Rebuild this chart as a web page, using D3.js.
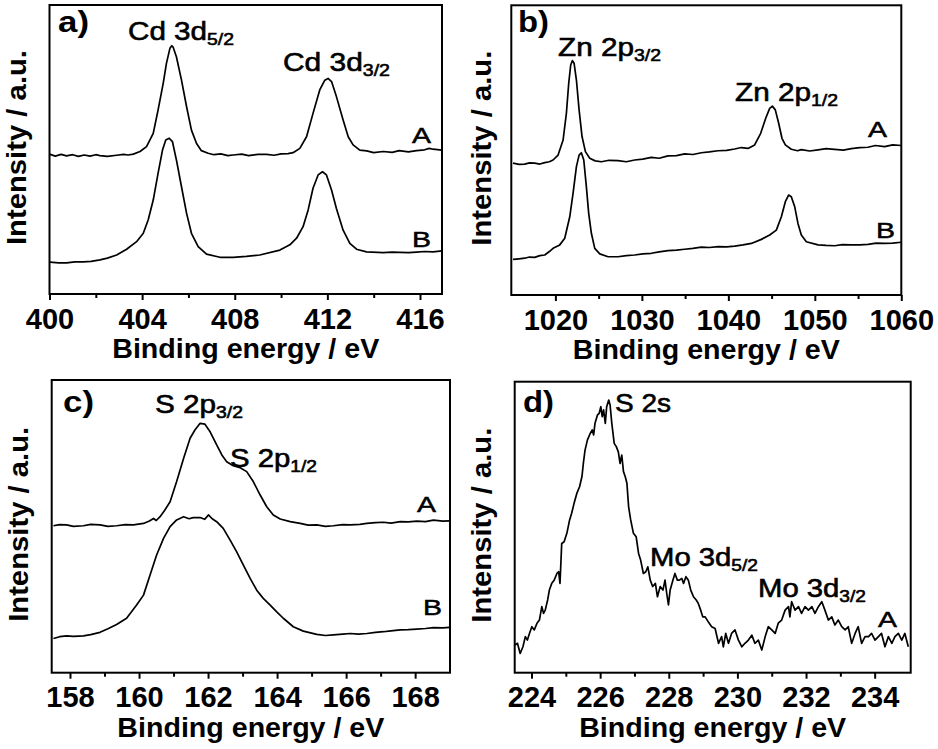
<!DOCTYPE html>
<html>
<head>
<meta charset="utf-8">
<script src="https://cdnjs.cloudflare.com/ajax/libs/d3/7.8.5/d3.min.js"></script>
<style>
  body { margin: 0; background: #fff; }
  text { font-family: "Liberation Sans", Arial, sans-serif; fill: #000; }
</style>
</head>
<body>
<script>
// ---- data (intensity in % of panel height) ----
var cdTicks = [400, 404, 408, 412, 416];
var cdMinor = [402, 406, 410, 414];
var cdA = [[400.0,48.4],[400.25,47.7],[400.5,48.3],[400.74,47.8],[401.0,48.2],[401.25,47.6],[401.5,48.1],[401.75,47.7],[402.0,48.2],[402.18,47.9],[402.5,47.6],[402.9,48.0],[403.2,48.3],[403.4,48.1],[403.62,48.4],[403.91,49.3],[404.19,51.0],[404.48,55.6],[404.69,63.7],[404.91,72.9],[405.05,79.8],[405.2,85.0],[405.28,85.9],[405.34,85.4],[405.48,82.1],[405.7,74.0],[405.92,64.8],[406.13,56.7],[406.35,52.1],[406.56,49.6],[406.85,48.7],[407.1,48.2],[407.4,48.5],[407.7,47.9],[407.93,48.1],[408.3,48.4],[408.6,47.9],[409.0,48.3],[409.37,48.3],[409.7,48.0],[410.0,48.5],[410.3,48.6],[410.52,48.9],[410.81,50.4],[411.1,54.4],[411.38,62.5],[411.67,70.6],[411.89,74.0],[412.03,74.6],[412.18,73.5],[412.39,68.3],[412.68,60.2],[412.9,54.4],[413.11,51.6],[413.4,49.8],[413.7,49.5],[414.0,48.9],[414.41,49.3],[414.8,49.0],[415.1,49.6],[415.5,49.2],[415.85,49.6],[416.2,49.9],[416.4,50.4],[416.56,50.1],[416.95,49.8]];
var cdB = [[400.02,11.0],[400.4,10.8],[400.74,10.8],[401.1,11.1],[401.46,11.1],[401.8,11.3],[402.18,11.8],[402.5,12.4],[402.9,13.5],[403.33,15.5],[403.76,18.1],[404.05,21.0],[404.26,25.6],[404.48,32.5],[404.69,41.8],[404.88,49.8],[405.02,53.3],[405.17,53.9],[405.31,52.7],[405.48,46.4],[405.7,37.1],[405.92,27.9],[406.13,21.0],[406.42,16.4],[406.78,13.8],[407.36,12.7],[407.93,12.7],[408.5,13.0],[409.08,13.5],[409.95,15.2],[410.38,17.0],[410.67,19.3],[410.95,23.3],[411.17,29.1],[411.38,36.6],[411.6,41.2],[411.79,42.3],[411.96,41.2],[412.18,36.0],[412.39,29.6],[412.68,22.1],[412.97,17.5],[413.26,15.5],[413.69,14.6],[414.41,14.3],[414.8,14.5],[415.13,14.4],[415.5,14.3],[415.85,14.5],[416.2,14.7],[416.56,14.6],[416.95,14.9]];

var znTicks = [1020, 1030, 1040, 1050, 1060];
var znMinor = [1025, 1035, 1045, 1055];
var znA = [[1015.1,45.5],[1015.8,45.1],[1016.45,45.2],[1017.0,45.6],[1017.6,45.5],[1018.2,45.2],[1018.77,45.7],[1019.3,46.0],[1019.73,46.6],[1020.31,48.3],[1020.89,53.5],[1021.27,62.7],[1021.54,73.1],[1021.77,79.4],[1021.97,80.9],[1022.16,80.0],[1022.43,74.2],[1022.74,63.9],[1023.08,54.7],[1023.47,49.5],[1023.97,47.2],[1024.6,46.3],[1025.32,46.0],[1026.2,46.5],[1027.24,46.4],[1028.2,46.0],[1029.17,46.6],[1030.1,46.9],[1031.1,47.5],[1032.0,47.2],[1033.02,48.0],[1034.0,48.1],[1034.95,48.7],[1035.9,48.5],[1036.88,49.1],[1037.8,49.4],[1038.81,49.8],[1039.8,49.9],[1040.73,50.4],[1041.5,50.9],[1042.27,50.6],[1043.04,51.8],[1043.74,55.8],[1044.32,61.0],[1044.78,64.4],[1045.09,65.2],[1045.43,63.9],[1045.82,59.3],[1046.2,54.1],[1046.59,51.8],[1047.28,50.3],[1048.0,49.8],[1048.44,50.2],[1049.4,49.7],[1050.37,50.1],[1051.3,50.5],[1052.29,50.3],[1053.3,50.0],[1054.22,50.5],[1055.2,50.9],[1056.15,51.0],[1057.0,51.6],[1058.07,51.2],[1059.0,51.8],[1060.0,51.6]];
var znB = [[1015.1,12.3],[1015.8,12.5],[1016.45,12.7],[1017.0,13.1],[1017.6,13.0],[1018.2,13.6],[1018.77,13.8],[1019.3,15.0],[1019.73,16.1],[1020.5,17.3],[1021.08,19.6],[1021.66,27.0],[1022.04,35.1],[1022.43,44.3],[1022.74,48.3],[1023.0,49.1],[1023.28,46.6],[1023.58,37.4],[1023.85,28.2],[1024.16,21.3],[1024.55,16.1],[1025.13,14.2],[1026.09,13.2],[1027.24,13.2],[1028.2,13.6],[1029.17,13.8],[1030.1,14.2],[1031.1,14.4],[1032.0,14.9],[1033.02,15.3],[1034.0,15.5],[1034.95,15.8],[1035.9,16.1],[1036.88,16.5],[1037.8,16.4],[1038.81,16.7],[1039.8,16.6],[1040.73,16.9],[1041.7,17.3],[1042.66,17.8],[1043.82,19.2],[1044.78,20.7],[1045.55,22.4],[1046.13,27.0],[1046.59,32.2],[1046.97,34.5],[1047.28,33.9],[1047.67,30.5],[1048.05,24.7],[1048.44,20.7],[1049.02,18.4],[1050.37,17.3],[1051.3,17.1],[1052.29,17.0],[1053.2,17.4],[1054.22,17.3],[1055.2,17.3],[1056.15,17.5],[1057.1,17.9],[1058.07,17.8],[1059.0,17.9],[1060.0,18.2]];

var s2pTicks = [158, 160, 162, 164, 166, 168];
var s2pMinor = [159, 161, 163, 165, 167];
var sA = [[157.52,50.2],[157.7,50.6],[157.9,50.5],[158.1,50.0],[158.39,50.2],[158.6,50.7],[158.87,50.5],[159.1,50.0],[159.35,50.2],[159.6,50.6],[159.84,50.5],[160.13,51.0],[160.3,51.8],[160.42,52.7],[160.5,52.0],[160.61,53.3],[160.75,55.6],[160.9,58.4],[161.09,65.3],[161.29,73.2],[161.48,80.1],[161.62,82.9],[161.77,85.2],[161.91,84.9],[162.06,82.3],[162.25,77.8],[162.4,74.4],[162.54,72.1],[162.73,70.7],[162.93,70.0],[163.12,68.7],[163.31,65.3],[163.51,60.7],[163.7,56.7],[163.89,53.9],[164.09,52.5],[164.38,51.6],[164.67,51.0],[164.9,50.4],[165.15,50.5],[165.4,50.0],[165.63,50.2],[165.9,50.6],[166.12,50.5],[166.4,50.7],[166.6,51.0],[166.85,51.3],[167.08,51.4],[167.3,51.1],[167.57,51.6],[167.8,51.5],[168.05,51.8],[168.3,51.6],[168.53,52.1],[168.8,51.8],[169.0,51.9]];
var sB = [[157.52,11.7],[157.7,12.3],[157.9,12.6],[158.1,12.4],[158.39,12.6],[158.6,13.0],[158.87,13.8],[159.1,15.0],[159.35,16.5],[159.64,18.6],[159.93,23.1],[160.13,26.5],[160.32,33.4],[160.51,40.2],[160.71,45.9],[160.9,49.9],[161.09,52.2],[161.29,53.3],[161.45,52.6],[161.57,53.0],[161.77,53.0],[161.9,52.4],[162.01,53.9],[162.12,52.6],[162.25,51.6],[162.44,49.3],[162.64,45.3],[162.83,41.3],[163.02,36.8],[163.22,32.2],[163.41,28.2],[163.6,25.4],[163.8,23.1],[163.99,20.8],[164.18,18.6],[164.47,15.7],[164.76,14.2],[165.15,13.1],[165.4,12.7],[165.63,12.9],[165.9,13.2],[166.12,13.4],[166.35,13.2],[166.6,13.4],[166.85,13.8],[167.08,14.0],[167.3,14.3],[167.57,14.6],[167.8,14.7],[168.05,14.9],[168.3,15.1],[168.53,15.4],[168.8,15.3],[169.0,15.5]];

var s2sTicks = [224, 226, 228, 230, 232, 234];
var s2sMinor = [225, 227, 229, 231, 233];
var moA = [[223.52,9.5],[223.59,10.1],[223.67,6.6],[223.75,8.9],[223.82,12.4],[223.88,11.2],[223.94,13.5],[224.01,15.8],[224.08,14.7],[224.16,17.0],[224.23,18.1],[224.30,22.7],[224.35,20.4],[224.40,21.5],[224.47,25.0],[224.52,28.4],[224.59,30.7],[224.66,31.8],[224.74,34.1],[224.79,34.7],[224.83,30.7],[224.88,44.4],[224.95,45.0],[225.03,47.9],[225.11,52.5],[225.17,54.8],[225.24,58.2],[225.32,61.6],[225.40,63.9],[225.47,67.4],[225.51,71.9],[225.56,76.5],[225.63,80.0],[225.71,82.2],[225.77,83.4],[225.81,81.7],[225.85,85.7],[225.92,88.5],[225.97,89.1],[226.02,91.4],[226.06,88.0],[226.10,90.3],[226.15,85.7],[226.19,91.4],[226.25,93.7],[226.29,92.0],[226.34,85.7],[226.41,78.8],[226.47,77.7],[226.53,75.9],[226.58,71.9],[226.63,74.8],[226.68,69.1],[226.73,67.4],[226.78,65.1],[226.83,57.0],[226.89,52.5],[226.97,47.9],[227.05,46.7],[227.12,41.0],[227.18,38.7],[227.26,34.1],[227.33,34.7],[227.39,36.4],[227.46,31.8],[227.53,29.6],[227.61,30.7],[227.67,26.1],[227.75,29.6],[227.83,28.4],[227.89,31.8],[227.94,27.3],[227.99,23.3],[228.04,28.4],[228.12,31.8],[228.18,34.1],[228.25,31.8],[228.31,31.8],[228.38,32.4],[228.43,30.7],[228.50,33.0],[228.57,31.8],[228.64,28.4],[228.72,26.1],[228.80,25.0],[228.86,23.8],[228.93,21.5],[228.99,19.2],[229.06,19.2],[229.16,17.3],[229.25,15.8],[229.35,15.2],[229.45,10.1],[229.54,12.4],[229.59,8.9],[229.66,13.5],[229.74,10.1],[229.83,13.5],[229.93,14.7],[230.03,11.2],[230.13,8.9],[230.22,10.1],[230.32,11.2],[230.42,12.9],[230.51,10.1],[230.61,11.2],[230.71,7.8],[230.81,12.4],[230.90,15.8],[231.00,14.7],[231.10,13.5],[231.19,17.0],[231.29,18.1],[231.39,21.5],[231.49,22.7],[231.53,19.2],[231.58,24.4],[231.68,21.5],[231.78,22.7],[231.87,20.4],[231.97,22.7],[232.07,21.5],[232.17,22.7],[232.26,20.4],[232.36,22.7],[232.46,24.4],[232.55,21.5],[232.65,18.1],[232.75,19.2],[232.84,16.4],[232.94,18.1],[233.04,15.8],[233.14,14.7],[233.23,15.8],[233.33,10.1],[233.43,13.5],[233.52,15.8],[233.62,10.1],[233.72,12.4],[233.82,12.4],[233.91,13.5],[234.01,11.2],[234.11,12.4],[234.20,13.5],[234.30,8.9],[234.40,12.4],[234.50,10.1],[234.59,12.4],[234.69,13.5],[234.79,11.2],[234.88,13.5],[234.98,8.9]];

// ---- drawing ----
var svg = d3.select("body").append("svg")
            .attr("width", 938)
            .attr("height", 749);

function peakLabel(g, x, y, main, sub, len) {
  var t = g.append("text")
           .attr("x", x).attr("y", y)
           .attr("stroke", "#000")
           .attr("stroke-width", 0.6)
           .style("font-size", "26px");
  t.append("tspan").text(main);
  if (sub) {
    t.append("tspan").attr("dy", 5).style("font-size", "17px").text(sub);
  }
  if (len) t.attr("textLength", len).attr("lengthAdjust", "spacingAndGlyphs");
}

function panel(p) {
  var x = d3.scaleLinear().domain(p.domain).range([p.left, p.right]);
  var y = d3.scaleLinear().domain([0, 100]).range([p.bottom, p.top]);
  var g = svg.append("g");

  var line = d3.line()
               .x(function(d) { return x(d[0]); })
               .y(function(d) { return y(d[1]); });

  p.curves.forEach(function(c) {
    g.append("path")
     .datum(c)
     .attr("d", line)
     .attr("fill", "none")
     .attr("stroke", "#000")
     .attr("stroke-width", 1.7)
     .attr("stroke-linejoin", "round");
  });

  // minor ticks
  var mn = g.append("g")
            .attr("transform", "translate(0," + p.bottom + ")")
            .call(d3.axisBottom(x).tickValues(p.minor).tickSize(4).tickSizeOuter(0).tickFormat(""));
  mn.select(".domain").remove();
  mn.selectAll("line").attr("stroke-width", 2);

  // major ticks + labels
  var ax = g.append("g")
            .attr("transform", "translate(0," + p.bottom + ")")
            .call(d3.axisBottom(x).tickValues(p.ticks).tickSize(6).tickPadding(8)
                    .tickSizeOuter(0).tickFormat(d3.format("d")));
  ax.attr("font-family", null).attr("font-size", null);
  ax.select(".domain").remove();
  ax.selectAll("line").attr("stroke-width", 2);
  ax.selectAll("text")
    .attr("fill", "#000")
    .style("font-size", "29px")
    .style("font-weight", "bold");

  // frame
  g.append("rect")
   .attr("x", p.left).attr("y", p.top)
   .attr("width", p.right - p.left)
   .attr("height", p.bottom - p.top)
   .attr("fill", "none")
   .attr("stroke", "#000")
   .attr("stroke-width", 2);

  // axis titles
  g.append("text")
   .attr("x", (p.left + p.right) / 2)
   .attr("y", p.bottom + 64)
   .attr("text-anchor", "middle")
   .attr("textLength", 267)
   .attr("lengthAdjust", "spacingAndGlyphs")
   .style("font-size", "27px")
   .style("font-weight", "bold")
   .text("Binding energy / eV");

  g.append("text")
   .attr("transform", "translate(" + (p.left - p.yTitleGap) + "," + ((p.top + p.bottom) / 2 - 2) + ") rotate(-90)")
   .attr("text-anchor", "middle")
   .attr("textLength", 195)
   .attr("lengthAdjust", "spacingAndGlyphs")
   .style("font-size", "27px")
   .style("font-weight", "bold")
   .text("Intensity / a.u.");

  // panel letter
  g.append("text")
   .attr("x", p.letter[0]).attr("y", p.letter[1])
   .attr("textLength", 31)
   .attr("lengthAdjust", "spacingAndGlyphs")
   .style("font-size", "30px")
   .style("font-weight", "bold")
   .text(p.letter[2]);

  p.peaks.forEach(function(k) { peakLabel(g, k[0], k[1], k[2], k[3], k[4]); });

  p.tags.forEach(function(k) {
    g.append("text")
     .attr("x", k[0]).attr("y", k[1])
     .attr("textLength", 19)
     .attr("lengthAdjust", "spacingAndGlyphs")
     .attr("stroke", "#000")
     .attr("stroke-width", 0.5)
     .style("font-size", "22px")
     .text(k[2]);
  });
}

panel({
  left: 49.5, right: 442, top: 5, bottom: 294, yTitleGap: 23.5,
  domain: [400, 416.95], ticks: cdTicks, minor: cdMinor,
  curves: [cdA, cdB],
  letter: [58, 32, "a)"],
  peaks: [[128, 39.5, "Cd 3d", "5/2", 106], [283, 71, "Cd 3d", "3/2", 107]],
  tags: [[412, 143, "A"], [412, 247, "B"]]
});

panel({
  left: 511.3, right: 901.3, top: 5.3, bottom: 295, yTitleGap: 20,
  domain: [1014.9, 1060], ticks: znTicks, minor: znMinor,
  curves: [znA, znB],
  letter: [518, 32, "b)"],
  peaks: [[558, 56, "Zn 2p", "3/2", 103], [735, 101, "Zn 2p", "1/2", 103]],
  tags: [[868, 137, "A"], [876, 238, "B"]]
});

panel({
  left: 51.7, right: 450, top: 380, bottom: 672.7, yTitleGap: 23.7,
  domain: [157.47, 169.01], ticks: s2pTicks, minor: s2pMinor,
  curves: [sA, sB],
  letter: [63, 412, "c)"],
  peaks: [[155, 413, "S 2p", "3/2", 88], [230, 467, "S 2p", "1/2", 87]],
  tags: [[417, 512, "A"], [423, 615, "B"]]
});

panel({
  left: 514.7, right: 910.7, top: 381.7, bottom: 672.7, yTitleGap: 23.4,
  domain: [223.51, 235.05], ticks: s2sTicks, minor: s2sMinor,
  curves: [moA],
  letter: [523, 412, "d)"],
  peaks: [[615, 412, "S 2s", null, 56], [650, 566, "Mo 3d", "5/2", 108], [758, 597, "Mo 3d", "3/2", 108]],
  tags: [[878, 627, "A"]]
});
</script>
</body>
</html>
